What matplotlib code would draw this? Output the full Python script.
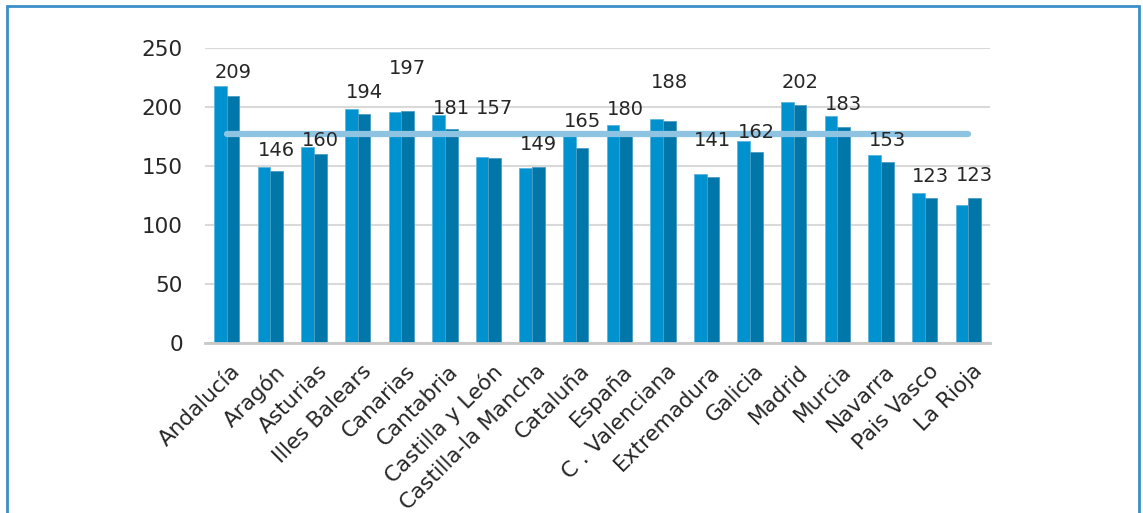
import numpy as np
import matplotlib
matplotlib.use("Agg")
import matplotlib.pyplot as plt
from matplotlib.patches import Rectangle

#--- data
regions = ["Andalucía", "Aragón", "Asturias", "Illes Balears", "Canarias",
           "Cantabria", "Castilla y León", "Castilla-la Mancha", "Cataluña",
           "España", "C . Valenciana", "Extremadura", "Galicia", "Madrid",
           "Murcia", "Navarra", "Pais Vasco", "La Rioja"]
serie1 = [218, 149, 166, 198, 196, 193, 158, 148, 176, 185, 190, 143, 171,
          204, 192, 159, 127, 117]
serie2 = [209, 146, 160, 194, 197, 181, 157, 149, 165, 180, 188, 141, 162,
          202, 183, 153, 123, 123]
media = 177
# vertical position (data units) where each value label sits
label_y = [229, 163, 172, 212, 233, 199, 199, 168, 188, 198, 221, 172, 178,
           221, 202, 172, 141, 142]

#--- figure
fig = plt.figure(figsize=(11.43, 5.13), dpi=100)
fig.patches.append(Rectangle((7 / 1143, -0.1), 1132 / 1143, 1.1 - 6 / 513,
                             transform=fig.transFigure, fill=False,
                             edgecolor="#3b8fc7", linewidth=2))

ax = fig.add_axes([205 / 1143, 170 / 513, 785 / 1143, 295 / 513])

x = np.arange(len(regions))
w = 0.29
ax.bar(x - w / 2, serie1, w, color="#0091cf", edgecolor="#5ab6e0",
       linewidth=0.6, zorder=2)
ax.bar(x + w / 2, serie2, w, color="#0076a9", edgecolor="#4a9cc4",
       linewidth=0.6, zorder=2)

ax.plot([x[0], x[-1]], [media, media], color="#8fc3e2", linewidth=4.5,
        solid_capstyle="round", zorder=3)

for xi, v, ly in zip(x, serie2, label_y):
    ax.text(xi + w / 2, ly, str(v), ha="center", va="center", fontsize=14,
            color="#262626", zorder=4)

ax.set_xlim(-0.5, len(regions) - 0.5)
ax.set_ylim(0, 250)
ax.set_yticks([0, 50, 100, 150, 200, 250])
ax.yaxis.grid(True, color="#d9d9d9", linewidth=1.5, zorder=0)
ax.set_axisbelow(True)

for s in ["top", "right", "left"]:
    ax.spines[s].set_visible(False)
ax.spines["bottom"].set_color("#c8c8c8")
ax.spines["bottom"].set_linewidth(2)
ax.spines["bottom"].set_zorder(5)

ax.tick_params(axis="y", length=0, pad=16, labelsize=15.5, labelcolor="#262626")
ax.tick_params(axis="x", length=0, pad=13)
ax.set_xticks(x + 0.08)
ax.set_xticklabels(regions, rotation=45, ha="right", rotation_mode="anchor",
                   fontsize=15.5, color="#262626")

plt.savefig("out.png", dpi=100)
